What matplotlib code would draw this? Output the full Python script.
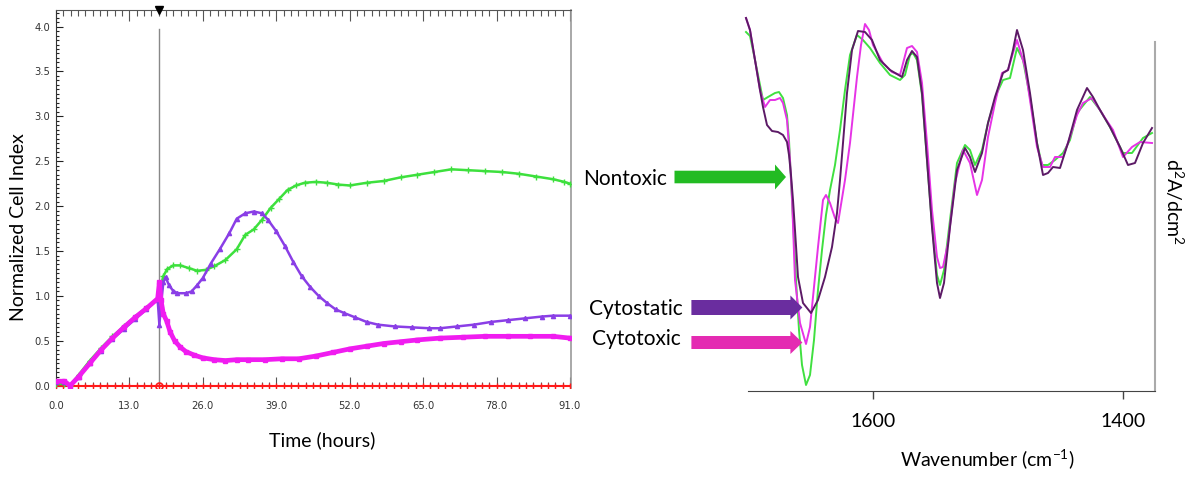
import numpy as np
import matplotlib
matplotlib.use("Agg")
import matplotlib.pyplot as plt
from matplotlib.patches import FancyArrow
from matplotlib.ticker import MultipleLocator

plt.rcParams['font.family'] = ['Lato', 'DejaVu Sans']
plt.rcParams['mathtext.fontset'] = 'custom'
plt.rcParams['mathtext.rm'] = 'Lato'
plt.rcParams['mathtext.it'] = 'Lato'

# ---------------- Left panel data: RTCA normalized cell index ----------------
treatment_time = 18.3
nontoxic_hours = [0, 1.5, 2.5, 4, 6, 8, 10, 12, 14, 16, 18, 18.5, 19, 19.7, 20.8, 22,
                  23.5, 25, 26.5, 28, 30, 32, 33.5, 35, 36.5, 38, 39.5, 41, 42.5, 44,
                  46, 48, 50, 52, 55, 58, 61, 64, 67, 70, 73, 76, 79, 82, 85, 88, 90, 91]
nontoxic_ci = [0.02, 0.02, 0.0, 0.12, 0.28, 0.42, 0.55, 0.66, 0.77, 0.87, 0.97, 1.1, 1.22,
               1.3, 1.34, 1.34, 1.31, 1.28, 1.29, 1.33, 1.40, 1.52, 1.68, 1.74, 1.85, 1.98,
               2.08, 2.18, 2.23, 2.26, 2.27, 2.26, 2.24, 2.23, 2.26, 2.28, 2.32, 2.35, 2.38,
               2.41, 2.40, 2.39, 2.38, 2.36, 2.33, 2.30, 2.27, 2.25]

cytostatic_hours = [0, 1.5, 2.5, 4, 6, 8, 10, 12, 14, 16, 18, 18.3, 18.6, 19, 19.4, 20,
                    20.7, 21.5, 23, 24, 25, 26, 27.4, 29, 30.7, 32, 33.5, 35, 36.5, 37.5,
                    39, 40.5, 42, 43.5, 45, 46.5, 48, 49.5, 51, 53, 55, 57, 60, 63, 66,
                    68, 71, 74, 77, 80, 83, 86, 88, 91]
cytostatic_ci = [0.04, 0.04, 0.0, 0.10, 0.25, 0.39, 0.52, 0.63, 0.74, 0.85, 0.96, 0.68,
                 0.9, 1.15, 1.21, 1.12, 1.06, 1.03, 1.03, 1.05, 1.12, 1.2, 1.36, 1.52, 1.70,
                 1.86, 1.92, 1.94, 1.92, 1.85, 1.72, 1.56, 1.38, 1.22, 1.10, 1.0, 0.92,
                 0.85, 0.81, 0.76, 0.71, 0.68, 0.66, 0.65, 0.64, 0.64, 0.66, 0.68, 0.71,
                 0.73, 0.75, 0.77, 0.78, 0.78]

cytotoxic_hours = [0, 1.5, 2.5, 4, 6, 8, 10, 12, 14, 16, 18, 18.3, 18.6, 19, 19.6, 20.2,
                   21, 22, 23, 24.5, 26, 28, 30, 32, 34, 37, 40, 43, 46, 49, 52, 55, 58,
                   61, 64, 68, 72, 76, 80, 84, 88, 91]
cytotoxic_ci = [0.05, 0.05, 0.0, 0.10, 0.25, 0.40, 0.53, 0.65, 0.76, 0.86, 0.97, 1.15,
                0.95, 0.80, 0.72, 0.60, 0.50, 0.43, 0.38, 0.34, 0.31, 0.29, 0.28, 0.29,
                0.29, 0.29, 0.30, 0.30, 0.33, 0.37, 0.41, 0.44, 0.47, 0.49, 0.51, 0.53,
                0.54, 0.55, 0.55, 0.55, 0.55, 0.53]

control_hours = [0.0, 1.3, 2.6, 3.9, 5.2, 6.5, 7.8, 9.1, 10.4, 11.7, 13.0, 14.3, 15.6,
                 16.9, 18.2, 19.5, 20.8, 22.1, 23.4, 24.7, 26.0, 27.3, 28.6, 29.9, 31.2,
                 32.5, 33.8, 35.1, 36.4, 37.7, 39.0, 40.3, 41.6, 42.9, 44.2, 45.5, 46.8,
                 48.1, 49.4, 50.7, 52.0, 53.3, 54.6, 55.9, 57.2, 58.5, 59.8, 61.1, 62.4,
                 63.7, 65.0, 66.3, 67.6, 68.9, 70.2, 71.5, 72.8, 74.1, 75.4, 76.7, 78.0,
                 79.3, 80.6, 81.9, 83.2, 84.5, 85.8, 87.1, 88.4, 89.7, 91.0]
control_ci = [0.0] * len(control_hours)

x_ticks = [0.0, 13.0, 26.0, 39.0, 52.0, 65.0, 78.0, 91.0]
y_ticks = [0.0, 0.5, 1.0, 1.5, 2.0, 2.5, 3.0, 3.5, 4.0]

# ---------------- Right panel data: second-derivative spectra ----------------
nontoxic_wn = [1701.6, 1698.4, 1694.4, 1690.4, 1688, 1684, 1678.4, 1675.2, 1672, 1668.8,
               1667.2, 1665.6, 1664, 1661.6, 1659.2, 1656.8, 1653.6, 1650.4, 1647.2, 1644,
               1640.8, 1637.6, 1634.4, 1630.4, 1626.4, 1622.4, 1618.4, 1612.8, 1608,
               1602.4, 1594.4, 1586.4, 1578.4, 1574.4, 1570.4, 1568, 1564.8, 1560.8,
               1556.8, 1552.8, 1548.8, 1546.4, 1543.2, 1538.4, 1532.8, 1526.4, 1522.4,
               1518.4, 1512.8, 1508, 1500.8, 1496, 1490.4, 1484.8, 1480, 1474.4, 1468.8,
               1464.8, 1460, 1454.4, 1448, 1442.4, 1436.8, 1426.4, 1418.4, 1410.4, 1400,
               1392.8, 1384, 1376.8]
nontoxic_d2 = [3.59, 3.55, 3.31, 3.06, 2.91, 2.94, 2.98, 2.99, 2.93, 2.76, 2.51, 2.11,
               1.71, 1.11, 0.61, 0.26, 0.06, 0.16, 0.51, 1.01, 1.41, 1.76, 2.01, 2.26, 2.61,
               3.01, 3.36, 3.56, 3.51, 3.43, 3.28, 3.16, 3.11, 3.16, 3.36, 3.38, 3.31, 2.96,
               2.31, 1.66, 1.16, 1.06, 1.21, 1.71, 2.28, 2.46, 2.41, 2.26, 2.41, 2.68, 2.98,
               3.11, 3.13, 3.43, 3.31, 2.94, 2.48, 2.26, 2.26, 2.31, 2.38, 2.51, 2.78, 2.94,
               2.81, 2.64, 2.38, 2.38, 2.53, 2.58]

cytostatic_wn = [1701.6, 1698.4, 1694.4, 1690.4, 1688, 1684.8, 1680.8, 1676, 1672, 1668.8,
                 1667.2, 1665.6, 1664, 1662.4, 1660, 1656, 1649.6, 1644, 1638.4, 1632.8,
                 1628.8, 1626.4, 1624, 1620.8, 1616.8, 1612, 1606.4, 1600.8, 1594.4,
                 1586.4, 1576.8, 1572.8, 1568.8, 1564.8, 1560.8, 1556.8, 1552.8, 1548.8,
                 1546.4, 1543.2, 1538.4, 1532.8, 1526.4, 1522.4, 1518.4, 1512.8, 1508,
                 1502.4, 1496, 1492, 1488, 1484.8, 1480, 1474.4, 1468.8, 1464, 1460, 1456,
                 1450.4, 1444, 1436.8, 1428.8, 1424, 1418.4, 1410.4, 1402.4, 1396, 1390.4,
                 1384, 1376.8]
cytostatic_d2 = [3.73, 3.61, 3.31, 3.01, 2.84, 2.66, 2.60, 2.59, 2.56, 2.49, 2.36, 2.16,
                 1.91, 1.61, 1.14, 0.88, 0.78, 0.91, 1.14, 1.44, 1.78, 2.11, 2.48, 2.98,
                 3.41, 3.60, 3.59, 3.51, 3.31, 3.21, 3.14, 3.31, 3.40, 3.34, 2.98, 2.31,
                 1.64, 1.08, 0.93, 1.08, 1.64, 2.21, 2.43, 2.34, 2.19, 2.38, 2.68, 2.94,
                 3.18, 3.21, 3.41, 3.61, 3.41, 2.98, 2.48, 2.16, 2.18, 2.24, 2.23, 2.48,
                 2.81, 3.03, 2.94, 2.81, 2.64, 2.44, 2.26, 2.28, 2.48, 2.63]

cytotoxic_wn = [1701.6, 1698.4, 1694.4, 1690.4, 1686.4, 1682.4, 1678.4, 1674.4, 1672,
                1668.8, 1666.4, 1664.8, 1662.4, 1658.4, 1653.6, 1650.4, 1648, 1644, 1640,
                1637.6, 1634.4, 1630.4, 1628, 1622.4, 1618.4, 1612.8, 1609.6, 1606.4,
                1603.2, 1600, 1592, 1584.8, 1578.4, 1572.8, 1568.8, 1564.8, 1560.8, 1556.8,
                1552.8, 1548.8, 1546.4, 1544, 1540, 1534.4, 1528, 1522.4, 1516.8, 1512.8,
                1508, 1502.4, 1496.8, 1492, 1488, 1484.8, 1478.4, 1474.4, 1468.8, 1464,
                1458.4, 1454.4, 1448, 1442.4, 1436.8, 1432, 1424.8, 1418.4, 1414.4, 1408,
                1400, 1392.8, 1386.4, 1376.8]
cytotoxic_d2 = [3.73, 3.61, 3.31, 3.01, 2.84, 2.91, 2.91, 2.93, 2.88, 2.71, 2.31, 1.94,
                1.11, 0.68, 0.47, 0.64, 0.94, 1.44, 1.91, 1.96, 1.88, 1.73, 1.68, 2.11,
                2.48, 3.14, 3.46, 3.67, 3.61, 3.46, 3.28, 3.19, 3.16, 3.43, 3.45, 3.39,
                3.08, 2.48, 1.81, 1.34, 1.23, 1.24, 1.48, 2.08, 2.41, 2.28, 1.96, 2.11,
                2.54, 2.88, 3.18, 3.21, 3.38, 3.51, 3.24, 2.91, 2.44, 2.24, 2.24, 2.34,
                2.34, 2.54, 2.76, 2.88, 2.93, 2.81, 2.73, 2.61, 2.34, 2.44, 2.49, 2.48]

wn_ticks = [1600, 1400]

# ---------------- Figure ----------------
W, H = 1196, 480
fig = plt.figure(figsize=(W / 100, H / 100), dpi=100)


def px(x, y):
    return x / W, 1 - y / H


# Left axes
ax = fig.add_axes([56 / W, (H - 388.4) / H, 515.1 / W, (388.4 - 9.5) / H])
ax.set_xlim(0, 91.2)
ax.set_ylim(-0.03, 4.19)

ax.plot(control_hours, control_ci, color='#ff1a1a', lw=1.5, marker='|', ms=5, mew=1.0, zorder=3)
ax.plot([treatment_time], [0.0], marker='o', ms=5, mfc='none', mec='#ff1a1a', mew=1.2, zorder=4)
ax.plot(nontoxic_hours, nontoxic_ci, color='#3de03d', lw=1.8, marker='+', ms=4, mew=1.0,
        solid_joinstyle='round', zorder=3)
ax.plot(cytostatic_hours, cytostatic_ci, color='#8a3ee6', lw=1.8, marker='^', ms=3,
        solid_joinstyle='round', zorder=4)
ax.plot(cytotoxic_hours, cytotoxic_ci, color='#f01cf0', lw=3.4, marker='s', ms=3.5,
        solid_joinstyle='round', zorder=5)
ax.plot([treatment_time, treatment_time], [0, 3.97], color='#888888', lw=1.0, zorder=2)
ax.plot([treatment_time], [1.0], transform=ax.get_xaxis_transform(), marker='v',
        color='black', ms=6, clip_on=False, zorder=6)

ax.set_xticks(x_ticks)
ax.set_xticklabels([f"{v:.1f}" for v in x_ticks])
ax.set_yticks(y_ticks)
ax.set_yticklabels([f"{v:.1f}" for v in y_ticks])
ax.xaxis.set_minor_locator(MultipleLocator(1.3))
ax.yaxis.set_minor_locator(MultipleLocator(0.05))
ax.tick_params(axis='x', which='both', direction='in', top=True, bottom=True,
               color='#555555', labelsize=8, labelcolor='#333333', pad=9)
ax.tick_params(axis='x', which='major', length=8, width=0.8)
ax.tick_params(axis='x', which='minor', length=4, width=0.8)
ax.tick_params(axis='y', which='both', direction='in', color='#222222',
               labelsize=8, labelcolor='#333333', pad=4)
ax.tick_params(axis='y', which='major', length=5, width=0.8)
ax.tick_params(axis='y', which='minor', length=2.5, width=0.8)
for lbl in ax.get_xticklabels() + ax.get_yticklabels():
    lbl.set_fontfamily('DejaVu Sans')
    lbl.set_fontstretch('condensed')
ax.spines['bottom'].set_visible(False)
ax.spines['left'].set_color('#333333')
ax.spines['top'].set_color('#555555')
ax.spines['right'].set_color('#999999')
ax.spines['right'].set_linewidth(1.2)

fig.text(*px(19, 227), 'Normalized Cell Index', rotation=90, ha='center', va='center',
         fontsize=14, color='black')
fig.text(*px(322.5, 440), 'Time (hours)', ha='center', va='center', fontsize=14,
         color='black')

# Right axes
ax2 = fig.add_axes([748 / W, (H - 391) / H, 407 / W, 376 / H])
ax2.set_xlim(1700, 1374.4)
ax2.set_ylim(0, 3.76)
ax2.plot(nontoxic_wn, nontoxic_d2, color='#40e040', lw=1.4, clip_on=False,
         solid_joinstyle='round', zorder=3)
ax2.plot(cytotoxic_wn, cytotoxic_d2, color='#e633e6', lw=1.4, clip_on=False,
         solid_joinstyle='round', zorder=4)
ax2.plot(cytostatic_wn, cytostatic_d2, color='#5c1a66', lw=1.4, clip_on=False,
         solid_joinstyle='round', zorder=5)
ax2.set_xticks(wn_ticks)
ax2.set_xticklabels([str(v) for v in wn_ticks])
ax2.set_yticks([])
ax2.tick_params(axis='x', direction='out', length=6, width=1, color='#444444',
                labelsize=14, pad=10)
for s in ['left', 'top']:
    ax2.spines[s].set_visible(False)
ax2.spines['bottom'].set_color('#444444')
ax2.spines['right'].set_color('#aaaaaa')
ax2.spines['right'].set_linewidth(1.5)
ax2.spines['right'].set_bounds(0, 3.49)

fig.text(*px(987, 459), 'Wavenumber (cm$^{-1}$)', ha='center', va='center', fontsize=14)
fig.text(*px(1174.5, 202), 'd$^{2}$A/dcm$^{2}$', rotation=270, ha='center', va='center',
         fontsize=14)

# Category labels and arrows
fig.text(*px(625, 179), 'Nontoxic', ha='center', va='center', fontsize=15)
fig.text(*px(636, 309), 'Cytostatic', ha='center', va='center', fontsize=15)
fig.text(*px(636, 339), 'Cytotoxic', ha='center', va='center', fontsize=15)

arrow_specs = [
    (674.5, 177, 786, 12.6, 25, 11, '#22bb22'),
    (691.4, 307.5, 802.4, 15, 24, 12, '#6a2d9f'),
    (691.4, 342.5, 802.4, 13, 23, 12, '#e42bb2'),
]
for x0, y0, x1, wbody, whead, lhead, col in arrow_specs:
    arr = FancyArrow(x0 / 100, (H - y0) / 100, (x1 - x0) / 100, 0, width=wbody / 100,
                     head_width=whead / 100, head_length=lhead / 100,
                     length_includes_head=True, color=col, lw=0,
                     transform=fig.dpi_scale_trans)
    fig.patches.append(arr)

fig.savefig('out.png', dpi=100)
